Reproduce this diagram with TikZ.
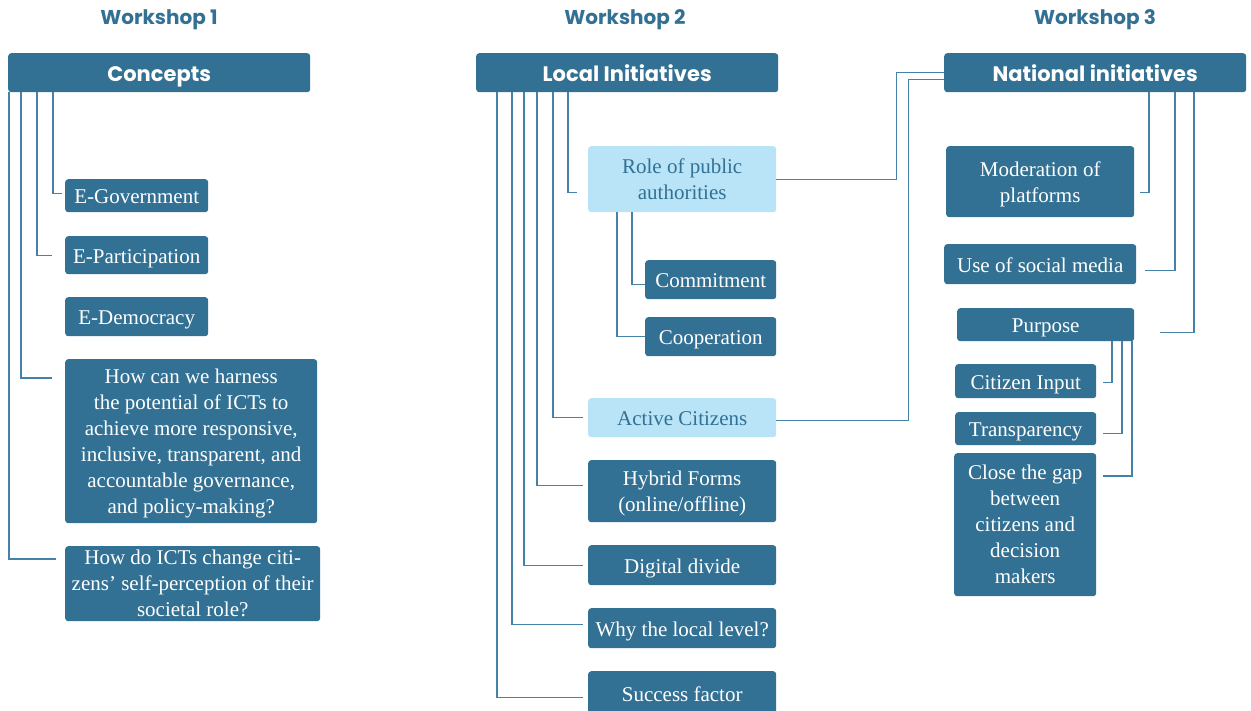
\documentclass[tikz,border=0pt]{standalone}
\usepackage{fontspec}
\setmainfont{Liberation Serif}
\newfontfamily\hdfont{Poppins}
\definecolor{dk}{RGB}{50,113,148}
\definecolor{lt}{RGB}{185,228,247}
\definecolor{ln}{RGB}{70,130,168}
\begin{document}
\begin{tikzpicture}[x=1pt,y=-1pt,
  bx/.style={rectangle, rounded corners=3pt, fill=dk, text=white, inner sep=0pt, align=center, anchor=north west, font=\fontsize{21}{26}\selectfont},
  one/.style={text height=16pt, text depth=0pt},
  lbx/.style={bx, fill=lt, text=dk},
  hbx/.style={bx, text height=18pt, text depth=0pt, font=\hdfont\bfseries\fontsize{21}{26}\selectfont},
  ws/.style={text=dk, anchor=base, inner sep=0pt, font=\hdfont\bfseries\fontsize{20}{24}\selectfont},
  sz/.style 2 args={minimum width=#1pt, minimum height=#2pt},
  conn/.style={draw=ln, line width=1.2pt},
]
\path[use as bounding box] (0,0) rectangle (1251,710);
% headings
\node[ws] (w1) at (159,24) {Workshop 1};
\node[ws] (w2) at (625,24) {Workshop 2};
\node[ws] (w3) at (1095,24) {Workshop 3};
% column 1
\node[hbx, sz={302}{39}] (con) at (8,53) {Concepts};
\node[bx, one, sz={143}{33}] (egov) at (65,179) {E-Government};
\node[bx, one, sz={143}{38}] (epar) at (65,236) {E-Participation};
\node[bx, one, sz={143}{39}] (edem) at (65,297) {E-Democracy};
\node[bx, sz={252}{164}, text depth=0pt] (harn) at (65,359) {How can we harness\\the potential of ICTs to\\achieve more responsive,\\inclusive, transparent, and\\accountable governance,\\and policy-making?};
\node[bx, sz={255}{75}, text depth=0pt] (ictq) at (65,546) {How do ICTs change citi-\\zens’ self-perception of their\\societal role?};
\draw[conn] ([xshift=45pt]con.south west) |- ([xshift=-3pt,yshift=2pt]egov.west);
\draw[conn] ([xshift=29pt]con.south west) |- ([xshift=-13pt]epar.west);
\draw[conn] ([xshift=13pt]con.south west) |- ([xshift=-13pt,yshift=-19pt]harn.north west);
\draw[conn] ([xshift=1pt]con.south west) |- ([xshift=-9pt,yshift=-13pt]ictq.north west);
% column 2
\node[hbx, sz={302}{39}] (loc) at (476,53) {Local Initiatives};
\node[lbx, sz={188}{66}] (role) at (588,146) {Role of public\\authorities};
\node[bx, one, sz={131}{39}] (comm) at (645,260) {Commitment};
\node[bx, one, sz={131}{39}] (coop) at (645,317) {Cooperation};
\node[lbx, one, sz={188}{39}] (act) at (588,398) {Active Citizens};
\node[bx, sz={188}{62}, text depth=0pt] (hyb) at (588,460) {Hybrid Forms\\(online/offline)};
\node[bx, one, sz={188}{40}] (dig) at (588,545) {Digital divide};
\node[bx, one, sz={188}{40}] (why) at (588,608) {Why the local level?};
\node[bx, one, sz={188}{45}] (suc) at (588,671) {Success factor};
\draw[conn] ([xshift=92pt]loc.south west) |- ([xshift=-11pt,yshift=-13pt]role.west);
\draw[conn] ([xshift=77pt]loc.south west) |- ([xshift=-5pt]act.west);
\draw[conn] ([xshift=61pt]loc.south west) |- ([xshift=-5pt,yshift=6pt]hyb.west);
\draw[conn] ([xshift=48pt]loc.south west) |- ([xshift=-5pt]dig.west);
\draw[conn] ([xshift=36pt]loc.south west) |- ([xshift=-5pt,yshift=4pt]why.west);
\draw[conn] ([xshift=21pt]loc.south west) |- ([xshift=-5pt,yshift=-3.5pt]suc.west);
\draw[conn] ([xshift=44pt]role.south west) |- ([yshift=-4.5pt]comm.west);
\draw[conn] ([xshift=29pt]role.south west) |- (coop.west);
% column 3
\node[hbx, sz={302}{39}] (nat) at (944,53) {National initiatives};
\node[bx, sz={188}{71}, text depth=0pt] (mod) at (946,146) {Moderation of\\platforms};
\node[bx, one, sz={192}{40}] (soc) at (944,244) {Use of social media};
\node[bx, one, sz={177}{33}] (pur) at (957,308) {Purpose};
\node[bx, one, sz={141}{34}] (cin) at (955,364) {Citizen Input};
\node[bx, one, sz={141}{33}] (tra) at (955,412) {Transparency};
\node[bx, sz={142}{143}, text depth=0pt] (gap) at (954,453) {Close the gap\\between\\citizens and\\decision\\makers};
\draw[conn] (role.east) -- ++(120,0) |- ([yshift=0.5pt]nat.west);
\draw[conn] ([yshift=-3pt]act.east) -- ++(132,0) |- ([yshift=-6.5pt]nat.west);
\draw[conn] ([xshift=205pt]nat.south west) |- ([xshift=6pt,yshift=-10.5pt]mod.east);
\draw[conn] ([xshift=231pt]nat.south west) |- ([xshift=9pt,yshift=-6pt]soc.east);
\draw[conn] ([xshift=250pt]nat.south west) |- ([xshift=26pt,yshift=-7.5pt]pur.east);
\draw[conn] ([xshift=155pt]pur.south west) |- ([xshift=7pt,yshift=-1pt]cin.east);
\draw[conn] ([xshift=165pt]pur.south west) |- ([xshift=7pt,yshift=-4.5pt]tra.east);
\draw[conn] ([xshift=175pt]pur.south west) |- ([xshift=7pt,yshift=-23pt]gap.north east);
\end{tikzpicture}
\end{document}
